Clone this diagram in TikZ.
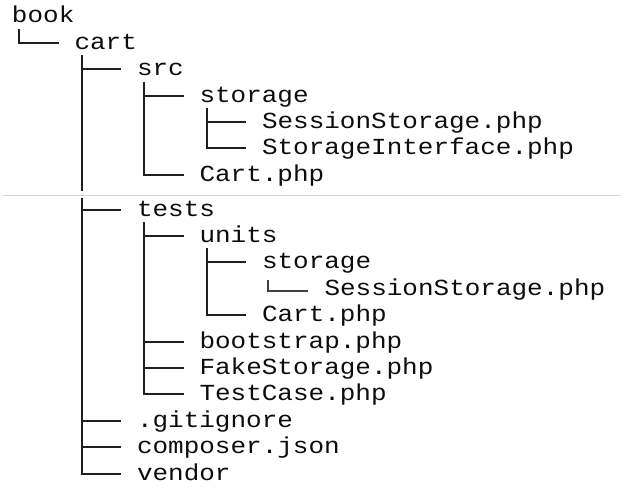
\documentclass[tikz,border=0pt]{standalone}
\usepackage{fontspec}
\newfontfamily\treefont[FakeStretch=1.13]{Liberation Mono}
\usetikzlibrary{calc}
\newcommand\treebranch[2]{%
  \path ([xshift=7pt]#1.base west) coordinate (tA)
        ([xshift=-16pt,yshift=6.5pt]#2.base west) coordinate (tB);
  \draw[treeline] (tA |- tB) -- (tB);}
\newcommand\treelast[2]{%
  \path ([xshift=7pt,yshift=-6pt]#1.base west) coordinate (tA)
        ([xshift=-16pt,yshift=6.5pt]#2.base west) coordinate (tB);
  \draw[treeline] (tA) |- (tB);}
\begin{document}
\begin{tikzpicture}[x=1pt,y=-1pt,
  entry/.style={anchor=base west, inner sep=0pt, outer sep=0pt,
    font=\treefont\fontsize{23}{23}\selectfont, text=black!95},
  treeline/.style={line width=2pt, draw=black!88},
  smalltree/.style={line width=1.5pt, draw=black!75},
  pagebreak/.style={line width=1pt, draw=black!16}]
\useasboundingbox[fill=white] (0,0) rectangle (622,495);
\node[entry] (book) at (12,22.7) {book};
\node[entry] (cart) at (74.5,49.15) {cart};
\node[entry] (src) at (137,75.6) {src};
\node[entry] (storage) at (199.5,102.05) {storage};
\node[entry] (sess) at (262,128.5) {SessionStorage.php};
\node[entry] (iface) at (262,154.95) {StorageInterface.php};
\node[entry] (cartphp) at (199.5,181.4) {Cart.php};
\node[entry] (tests) at (137,216) {tests};
\node[entry] (units) at (199.5,242.4) {units};
\node[entry] (ustorage) at (262,268.8) {storage};
\node[entry] (usess) at (324.5,295.2) {SessionStorage.php};
\node[entry] (ucart) at (262,321.6) {Cart.php};
\node[entry] (boot) at (199.5,348) {bootstrap.php};
\node[entry] (fake) at (199.5,374.4) {FakeStorage.php};
\node[entry] (testcase) at (199.5,400.8) {TestCase.php};
\node[entry] (gitignore) at (137,427.2) {.gitignore};
\node[entry] (composer) at (137,453.6) {composer.json};
\node[entry] (vendor) at (137,480) {vendor};
% book
\treelast{book}{cart}
% cart
\treebranch{cart}{src}
\treebranch{cart}{tests}
\treebranch{cart}{gitignore}
\treebranch{cart}{composer}
\treelast{cart}{vendor}
% src
\treebranch{src}{storage}
\treelast{src}{cartphp}
% storage
\treebranch{storage}{sess}
\treelast{storage}{iface}
% tests
\treebranch{tests}{units}
\treebranch{tests}{boot}
\treebranch{tests}{fake}
\treelast{tests}{testcase}
% units
\treebranch{units}{ustorage}
\treelast{units}{ucart}
% units/storage
\draw[smalltree] ([xshift=6pt,yshift=-11pt]ustorage.base west)
  |- ([xshift=-16.5pt,yshift=4pt]usess.base west);
% page break
\fill[white] (0,191) rectangle (622,198);
\draw[pagebreak] (3,195) -- (620,195);
\end{tikzpicture}
\end{document}
